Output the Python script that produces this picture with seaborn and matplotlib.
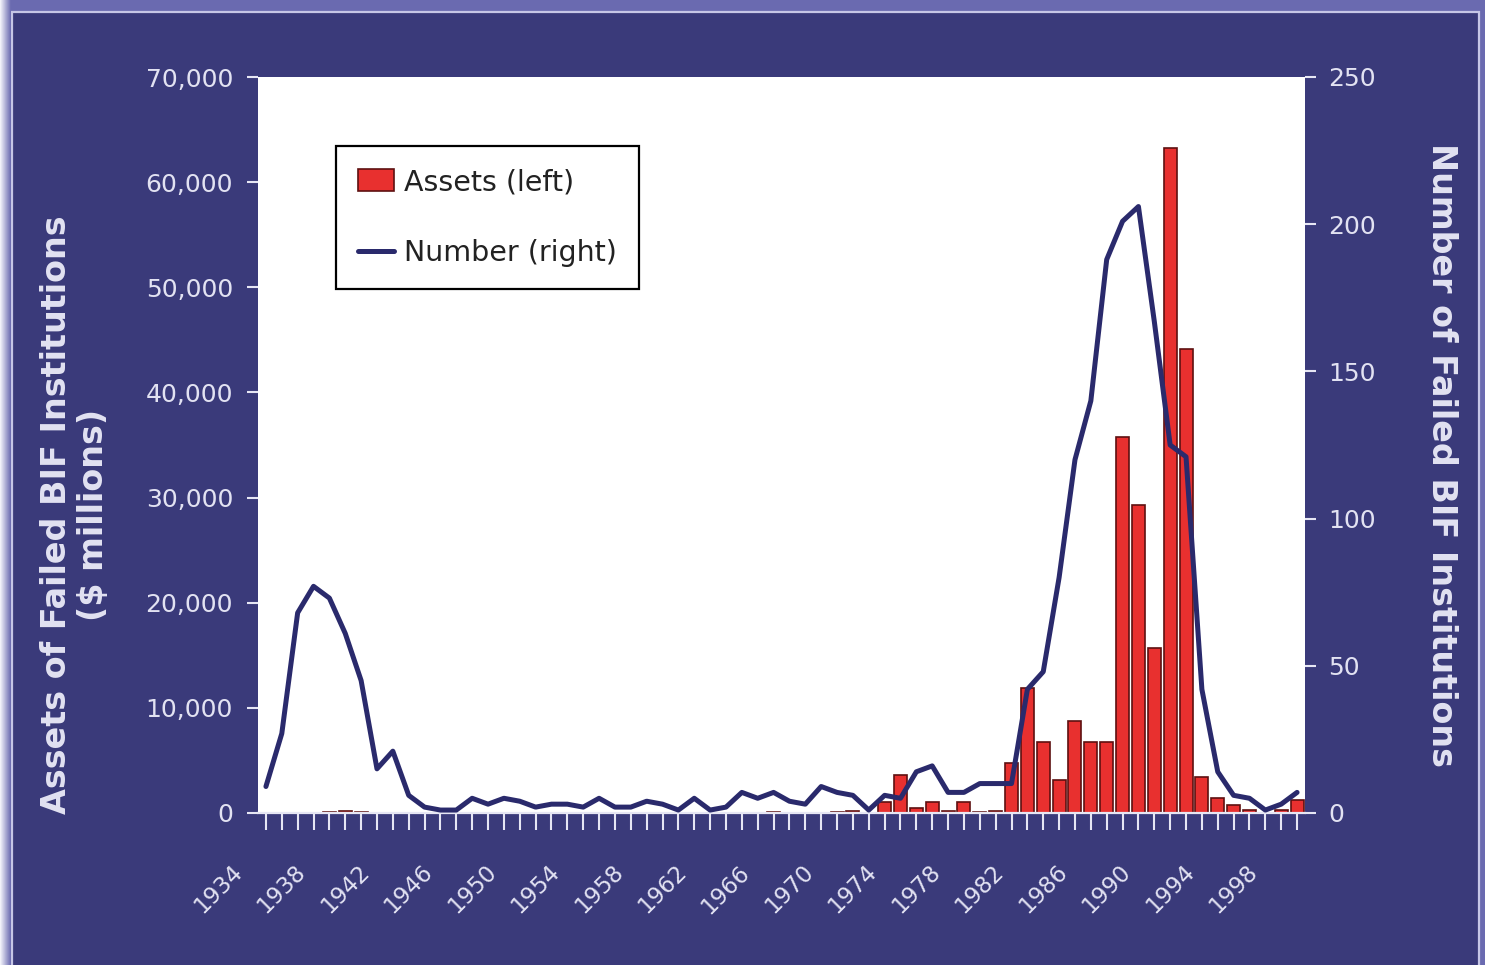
import numpy as np
import pandas as pd
import matplotlib
matplotlib.use("Agg")
import matplotlib.pyplot as plt
import matplotlib.transforms as mtransforms
from matplotlib.patches import Rectangle, Patch
from matplotlib.lines import Line2D
from matplotlib.colors import LinearSegmentedColormap
from matplotlib.ticker import FuncFormatter
import seaborn as sns

# ---- data -------------------------------------------------------------
years = list(range(1934, 2000))

# assets of failed BIF institutions, $ millions
assets = [
    2, 13, 28, 33, 58, 160, 142, 29, 19, 12,          # 1934-1943
    5, 6, 1, 7, 11, 5, 6, 4, 3, 45,                    # 1944-1953
    1, 12, 12, 1, 9, 3, 8, 9, 3, 23,                   # 1954-1963
    24, 45, 100, 11, 23, 40, 54, 200, 20, 1000,        # 1964-1973
    3600, 450, 1000, 200, 1000, 110, 150, 4800, 11900, 6800,   # 1974-1983
    3100, 8750, 6800, 6800, 35800, 29300, 15700, 63200, 44100, 3400,  # 1984-1993
    1400, 800, 250, 30, 300, 1200,                     # 1994-1999
]

# number of failed BIF institutions
number = [
    9, 27, 68, 77, 73, 61, 45, 15, 21, 6,              # 1934-1943
    2, 1, 1, 5, 3, 5, 4, 2, 3, 3,                      # 1944-1953
    2, 5, 2, 2, 4, 3, 1, 5, 1, 2,                      # 1954-1963
    7, 5, 7, 4, 3, 9, 7, 6, 1, 6,                      # 1964-1973
    5, 14, 16, 7, 7, 10, 10, 10, 42, 48,               # 1974-1983
    80, 120, 140, 188, 201, 206, 167, 125, 121, 42,    # 1984-1993
    14, 6, 5, 1, 3, 7,                                 # 1994-1999
]

left_ticks = [0, 10000, 20000, 30000, 40000, 50000, 60000, 70000]
right_ticks = [0, 50, 100, 150, 200, 250]
year_labels = years[::4]

series_names = ["Assets (left)", "Number (right)"]
left_title = "Assets of Failed BIF Institutions\n($ millions)"
right_title = "Number of Failed BIF Institutions"

# ---- style ------------------------------------------------------------
NAVY = "#3a3a7a"
FRAME = "#6a6ab0"
RED = "#e8302f"
BAR_EDGE = "#5e1010"
LINE = "#2a2a6c"
TXT = "#e2e2f2"
TICK = "#e6e6f4"

sns.set_theme(style="white")
plt.rcParams["font.family"] = ["DejaVu Sans"]

W, H = 1485, 965
fig = plt.figure(figsize=(W / 100, H / 100), dpi=100)
fig.patch.set_facecolor(FRAME)

# slide panel with a light rim
fig.add_artist(Rectangle((12 / W, -0.01), (1479 - 12) / W, (H - 12) / H + 0.01,
                         transform=fig.transFigure, facecolor=NAVY,
                         edgecolor="#c6c6e6", linewidth=1.6, zorder=0))
# soft light strip on the left edge
gax = fig.add_axes([0, 0, 11 / W, 1])
gax.imshow(np.linspace(0, 1, 32)[None, :], aspect="auto",
           cmap=LinearSegmentedColormap.from_list("edge", ["#f6f6fc", FRAME]))
gax.axis("off")

df = pd.DataFrame({"year": years, "assets": assets, "number": number})
df["pos"] = np.arange(len(df))

ax = fig.add_axes([258 / W, 1 - 813 / H, 1047 / W, 736 / H])
ax.set_facecolor("white")
sns.barplot(data=df, x="year", y="assets", ax=ax, color=RED, saturation=1,
            edgecolor=BAR_EDGE, linewidth=1.2, width=0.82)

ax2 = ax.twinx()
sns.lineplot(data=df, x="pos", y="number", ax=ax2, color=LINE, linewidth=3.6)

ax.set_xlim(-0.5, len(years) - 0.5)
ax.set_ylim(0, 70000)
ax2.set_ylim(0, 250)

for a in (ax, ax2):
    a.set_xlabel("")
    a.set_ylabel("")
    for s in a.spines.values():
        s.set_visible(False)
ax.spines["bottom"].set_visible(True)
ax.spines["bottom"].set_color(TICK)
ax.spines["bottom"].set_linewidth(1.6)

# left axis
ax.set_yticks(left_ticks)
ax.yaxis.set_major_formatter(FuncFormatter(lambda v, p: f"{int(v):,}"))
ax.tick_params(axis="y", left=True, length=8, width=1.5, color=TICK,
               labelcolor=TXT, labelsize=18, pad=10)

# right axis
ax2.set_yticks(right_ticks)
ax2.tick_params(axis="y", right=True, length=8, width=1.5, color=TICK,
                labelcolor=TXT, labelsize=18, pad=9)

# category axis
ax.set_xticks(df["pos"])
ax.set_xticklabels([str(y) if y in year_labels else "" for y in years])
ax.tick_params(axis="x", bottom=True, length=12, width=1.5, color=TICK,
               labelcolor=TXT, labelsize=16.5, pad=28)
shift = mtransforms.ScaledTranslation(-27 / 100, 0, fig.dpi_scale_trans)
for lab in ax.get_xticklabels():
    lab.set_rotation(45)
    lab.set_ha("right")
    lab.set_va("center")
    lab.set_rotation_mode("anchor")
    lab.set_transform(lab.get_transform() + shift)

# axis titles
fig.text(75 / W, 1 - 515 / H, left_title, rotation=90, ha="center", va="center",
         multialignment="center", fontsize=24, fontweight="bold", color=TXT,
         linespacing=1.15)
fig.text(1442 / W, 1 - 455 / H, right_title, rotation=270, ha="center",
         va="center", fontsize=24, fontweight="bold", color=TXT)

# legend
handles = [Patch(facecolor=RED, edgecolor=BAR_EDGE, linewidth=1.2),
           Line2D([], [], color=LINE, linewidth=3.6)]
leg = ax2.legend(handles, series_names, loc="upper left",
                 bbox_to_anchor=((336 - 258) / 1047, (813 - 146) / 736),
                 borderaxespad=0, frameon=True, fancybox=False,
                 edgecolor="black", framealpha=1, fontsize=20.5,
                 handlelength=1.25, handleheight=0.8, handletextpad=0.35,
                 labelspacing=1.5, borderpad=0.78)
leg.get_frame().set_linewidth(1.6)
for t in leg.get_texts():
    t.set_color("#222222")

fig.savefig("out.png", dpi=100, facecolor=fig.get_facecolor())
